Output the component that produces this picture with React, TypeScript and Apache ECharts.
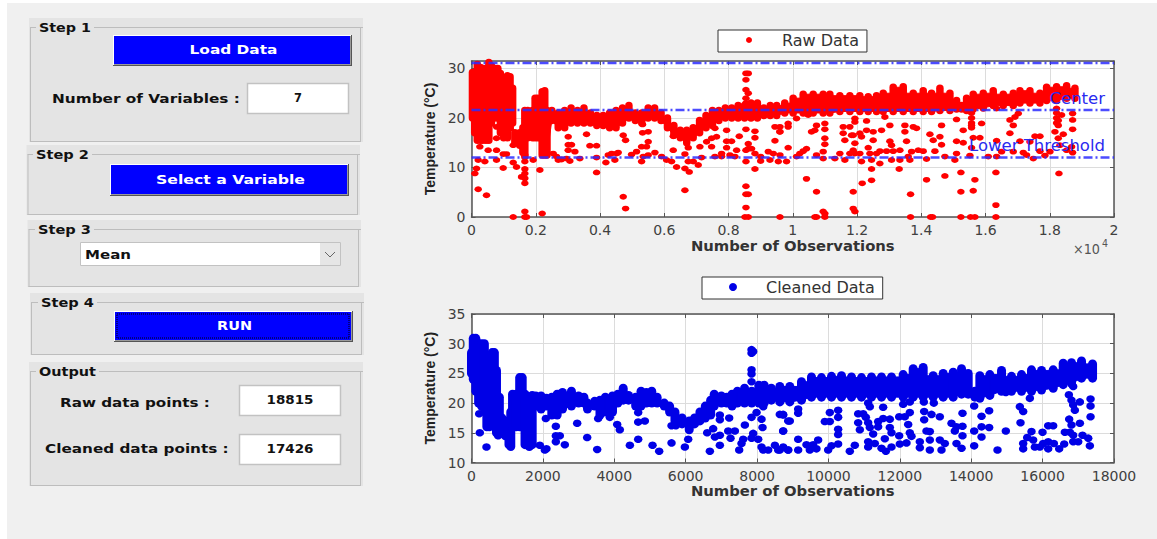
import React, { useEffect, useRef } from "react";
import * as echarts from "echarts";

// ---------- DATA ----------
const rawTitle = "Raw Data";
const cleanTitle = "Cleaned Data";
const xName = "Number of Observations";
const yName = "Temperature (°C)";
const thresholds = { upper: 31.1, center: 21.6, lower: 12 };

// [observation, low, high] of the densely filled part of each trace
const rawBand = [
  [30,20,29.2],[100,17,29],[180,15.5,30.8],[280,15.5,30.2],[350,15.5,30],[450,15.5,30],[540,15.5,31.2],[620,19,30.5],[720,20,30],[820,20,30],[900,17,29],[1000,16,27.5],[1120,16,28.5],[1200,18,28.3],[1280,19,26],[1350,15,17],[1500,14.5,17],[1600,13,18],[1660,12.2,21.5],[1750,16,21.5],[1900,16,21.5],[1980,16,24],[2060,16,24],[2130,16,21.5],[2200,12.5,25.3],[2280,12.5,25.5],[2350,12.5,21.5],
  [2500,19.5,21.5],[2700,18,21],[2900,18,21.5],[3100,19,22],[3300,19,21.5],[3500,19,22],[3700,19,21],[3900,18.5,20.5],[4100,18.5,20.5],[4300,18,21],[4500,18,21.5],[4700,19,22],[4900,20,22.5],[5100,19.5,21],[5300,19,21],[5500,20,22],[5700,20,22],[5900,19.5,21],[6100,18,20],[6300,16.5,18.5],[6500,16,17.5],[6700,15,17.5],[6900,16,18],[7100,17,19.5],[7300,18,20.5],[7500,18.5,21.5],[7700,19.5,21.5],[7900,20,22],[8100,20,22],[8300,20,22.5],[8500,20,22.5],[8700,20,23],[8900,20,23],[9100,20.5,22],[9300,20.5,22.5],[9500,20.5,22.5],[9750,21,23],
  [10013,21,24],[10325,21,24.8],[10636,21,24.8],[10947,21,24.8],[11155,21,24.8],[11466,21.3,24.5],[11778,21.3,24.5],[12089,21.3,24.5],[12349,21.3,24.3],[12608,21.3,24.5],[12816,21.3,25],[13127,21.3,26.2],[13439,21.3,26.3],[13750,21.3,25],[14061,21.3,25.5],[14321,21.3,25],[14581,21.5,26],[14892,21.5,25],[15099,21.8,23.5],[15255,21.8,22.5],[15411,21.5,24],[15618,21.8,24.8],[15930,22,25],[16241,22.5,25.5],[16553,22.5,24.8],[16864,22.5,25],[17072,23,25.5],[17383,23,25.5],[17695,23,25],[17902,23.5,26.2],[18213,23.5,26.3],[18525,24,26.5],[18784,24,26],
];

const rawPoints = [
  [104,8.8],[156,9.8],[208,5.6],[467,4.4],[260,14.2],[208,11.5],[415,11.2],[519,13.5],[779,13.5],[779,11.5],[779,15.9],[779,18.2],[986,12.7],[1090,12.7],[986,9.9],[1298,11],[1401,10.1],[1298,14.5],[1298,0],[1661,0],[1713,0],[1661,1.1],[1661,6.8],[1661,7.8],[1557,8.1],[1661,8.8],[1661,9.7],[1661,11.2],[1661,12.5],[1920,11.5],[2128,9.5],[2200,0.7],
  [2543,12.8],[2647,12.2],[2700,11.5],[2803,11.6],[2958,11.8],[3062,11.3],[3010,16.2],[3010,14.6],[3010,13.5],[3114,14.6],[3218,13.2],[3373,11.8],[3581,16.7],[3685,14.4],[3893,14.4],[3893,12],[3893,9],[4183,11],[4256,12.5],[4360,12.8],[4515,12.8],[4463,11.5],[4567,13],[4723,16.5],[4796,15.5],[4723,4.1],[4796,1.7],[4982,12.6],[5138,13.2],[5294,14.2],[5325,18.7],[5325,17],[5294,11.2],[5346,12.2],[5501,17.2],[5501,15.2],[5450,14.2],[5501,12.5],[5709,13],[5917,12.2],[6072,11.5],[6228,11.2],[6384,10.1],[6280,13.5],[6280,16.3],[6643,12.7],[6643,5.4],[6643,9.8],[6778,9.1],[6747,14],[6747,11.2],[6903,11.2],[7058,10.5],[7110,14.2],[7162,12],[7318,15.2],[7474,15.9],[7474,14.2],[7577,12.2],[7577,17.9],[7629,16.2],[7785,12.8],[7785,12.2],[7941,17.5],[7941,15.3],[8096,15.3],[7941,14],[8045,12.5],[8252,13.5],[8335,16.3],[8200,12.2],[8543,17.7],[8543,13.5],[8615,14.8],[8615,13.8],[8719,13.8],[8543,11.2],[8543,6.2],[8543,4.6],[8615,4.6],[8543,1.9],[8512,0],[8615,0],[8823,17.3],[8823,16],[8823,9.7],[8823,12.8],[9000,12.2],[9000,11.3],[9238,13.2],[9394,12.8],[9602,12.5],[9446,15.4],[9446,18.2],[9602,17.2],[9602,18.2],[9290,11.5],[9550,11.2],[9602,0],
  [8543,29],[8615,29],[8543,27.7],[8543,25.7],[8615,25],[8543,24],[8543,23],
  [9598,17.2],[9857,18.9],[9857,18.2],[10117,19.9],[10480,20.6],[10584,17.2],[10688,17.5],[10740,18.5],[10999,18.9],[10999,17.7],[10999,15.9],[10999,14.7],[11570,18.2],[11570,16.9],[11622,15.5],[11778,18.2],[11830,16.5],[11934,19.9],[11934,19.2],[11882,16.5],[12089,16.9],[12141,16.2],[11934,14.9],[12297,19.4],[12297,17.5],[12504,17.2],[12504,15.5],[12764,17.5],[13023,18.5],[13023,15.3],[13075,14.5],[12868,20.2],[13491,18.5],[13491,17.2],[13750,18.2],[13854,17.9],[13542,15.3],[14269,16.7],[14373,15.5],[14581,16.2],[14632,18.5],[14632,14.6],[15099,19.7],[15099,15.3],[15307,17.5],[15307,15],
  [15566,21],[15566,20],[15566,19],[15566,18.5],[15566,18],[15618,16],[15826,16],[15878,18.9],[16345,15.4],[16345,21.9],[16760,19.6],[16864,18.5],[16760,16.9],[17020,20.9],[16916,20.2],[17539,16.3],[17695,16.3],[17383,15.2],[18162,17.2],[18421,16.7],[18265,15.9],
  [18213,21.9],[18213,21],[18213,20],[18213,19],[18265,19.5],[18265,18.5],[18369,20.6],[18712,20.9],[18712,19.6],[18712,17.7],[18712,13],
  [9857,14],[10221,12.8],[10428,13.8],[10117,12.2],[9806,11.2],[10325,13.3],[10740,12.5],[10947,13.2],[10947,11.8],[11311,11.8],[11466,12.8],[11622,11.5],[11778,12.8],[11882,13.5],[11934,12.8],[12089,12.8],[12141,11.2],[12349,14],[12401,12.8],[12453,11.5],[12608,12.8],[12712,13.3],[12712,10.8],[12920,13.3],[13127,13.3],[13075,11.5],[13335,13.5],[13335,11.5],[13594,12.2],[13646,11.5],[13698,13.2],[13906,13.5],[14061,13.3],[14165,11.7],[14425,13.3],[14736,12.2],[15047,11.5],[15099,12.8],[15515,12.4],[15566,14],[16086,12.2],[16345,12.2],[16501,13.2],[16864,13.2],[17072,15.3],[17176,13],[17279,12.5],[17487,11.8],[17695,13.3],[17850,12.4],[18006,13.2],[18317,14.5],[18525,13.5],[18681,14.2],
  [10428,7.7],[10740,5.1],[10947,1.1],[10999,0.7],[10688,0],[10740,0],[10999,0],[11882,5.1],[11882,1.7],[11934,1.1],[12162,6.8],[12453,7.4],[12453,9.7],[13314,9.7],[13667,4.6],[13667,0],[14165,7.5],[14352,0],[14290,0],[14736,8.3],[15234,9],[15234,5.1],[15234,0],[15535,0],[15670,0],[15670,7.5],[15618,5.3],[16324,9],[16324,2.4],[16324,0],[18286,8.8],
];

const cleanBand = [
  [0,25,28.5],[50,24,30.9],[120,22,30.9],[200,20,30],[280,19.5,30],[360,19,30],[430,16,28],[500,16,27.5],[580,17.5,28.5],[640,17,28.5],[700,15,25.5],[780,15,21],[850,15,17.5],[950,14.5,17],[1050,13,17],[1100,12.7,18.5],[1150,16,21.5],[1250,16,21.5],[1350,16,24.3],[1420,16,24.3],[1500,13,21.5],[1620,12.7,17],[1700,13,21.3],
  [1800,19.5,21.2],[1950,19,21.2],[2100,19.5,20.8],[2250,18,21],[2400,18,21.5],[2550,19,21.8],[2800,19.5,22],[3000,20,21.2],[3150,20,21],[3250,19,20],[3450,19.5,20.3],[3600,18,20.5],[3750,18.5,21],[3950,18.5,21.2],[4100,20,21.5],[4250,20.5,22.5],[4400,20.5,21.3],[4600,19.5,21],[4750,19.5,22],[4900,20,21.8],[5050,20,22],[5200,20,21],[5400,19.5,20],[5550,18.5,19.5],[5700,17,18.5],[5900,16.5,17.5],[6100,15.5,17],[6250,16.5,17.5],[6400,17,18.5],[6550,17.5,19.5],[6700,18,20.5],[6800,19.5,21.5],[7000,20,21.2],[7150,20,21],[7300,19.5,21.5],[7450,20,22],[7650,20,22.5],[7850,20,22],[8050,20,23],[8200,20,23],[8400,20.5,22.5],[8638,20.2,22.8],
  [8918,20.2,22.8],[9245,20.5,23.6],[9525,21,24.4],[9805,21,24.3],[10086,21,24.5],[10366,21,24.6],[10646,21,24.4],[10926,21,24.3],[11206,21,24.4],[11487,21,24.4],[11767,21,24.4],[12094,21,24.8],[12374,21,25.8],[12654,21,26],[12934,21,24.6],[13215,21,25],[13495,21,25.2],[13729,21.5,25.8],[13915,21.5,25],[14102,21,22],[14242,20.8,24.6],[14522,21.3,24.8],[14849,22,25.5],[15129,22,24.5],[15410,22,24.8],[15689,22,25.6],[15970,22.2,25.5],[16297,22.5,25.6],[16577,23.1,26.7],[16810,23.3,26.8],[17090,24.2,27.1],[17399,24.2,26.6],
];

const cleanPoints = [
  [233,15],[215,18.2],[420,12.6],[747,14.5],[747,18.2],[1915,12.9],[2055,12.1],[2101,12.3],[2083,17.4],[2363,16.1],[2363,14.5],[2475,14.5],[2363,13.5],[2615,13],[2961,16.6],[3241,14.2],[3521,12.2],[3549,17.4],[3876,17.6],[4082,16.4],[4156,15.5],[4437,12.9],[4670,13.9],[4670,16.8],[4857,17],[4670,18.4],[5072,12.9],[5258,11.9],[5604,13.3],[5604,16.2],[5725,16.2],[5978,12.6],[6071,13.9],[6603,15],[6678,11.9],[6771,15.7],[6818,14.3],[6958,14.6],[6958,12.9],[6958,17.2],[6958,18],[7220,17.5],[7192,15.3],[7379,15.3],[7257,14.1],[7500,12.1],[7565,13.2],[7612,13.9],[7659,16.3],[7846,14.1],[7892,14.9],[8032,13.9],[7846,17.6],[7986,18.4],[8126,12.6],[8173,12.1],[8313,12.1],[8126,17.3],[8154,15.9],[8173,19.4],[8500,12.9],[8593,12.1],[8733,12.6],[8873,12.1],[8733,18],[8733,15.3],[8873,17],
  [7846,29],[7846,28.4],[7846,25.6],[7846,24.9],[7846,23.6],[7892,28.7],
  [8638,18.1],[8731,18.1],[8918,17],[9152,19],[9152,18.3],[8731,15.3],[9152,13.9],[9712,13.8],[9899,16.9],[10039,16.9],[10039,18.4],[10272,18.8],[10272,17.6],[10272,15.6],[10272,14.7],[9385,13],[9572,13],[9479,12.1],[9152,12.1],[8872,12.1],[8638,12.1],[9665,12.3],[9992,12.1],[10086,12.8],[10272,13.1],[10599,11.9],[10739,12.9],[10833,18.2],[10833,16.7],[10880,15.5],[10973,18.2],[11048,17.6],[11113,20],[11160,19.4],[11113,16.7],[11160,15.9],[11253,14.8],[11113,13.5],[11113,12.6],[11300,13.2],[11393,16],[11393,16.9],[11533,17.4],[11533,19.3],[11720,17.3],[11720,15.9],[11767,15],[11580,14],[11487,12.4],[11608,11.9],[11767,12.6],[11982,17.7],[11982,14.5],[12140,17.7],[12280,18.4],[12234,16.4],[12280,15],[12327,14.4],[12094,19.8],[12280,20.2],[12000,13.1],[12187,13.3],[12561,13.5],[12561,12.5],[12682,18.6],[12682,17.2],[12747,15.3],[12841,15.2],[12673,20.2],[12953,20],[12888,18.1],[13121,17.7],[12841,13.8],[12841,12.1],[13121,13.8],[13168,12.1],[13261,13.2],[13448,16.6],[13588,16],[13541,15.3],[13756,16.1],[13756,14.5],[13756,18.3],[13588,13.2],[13729,12.4],[14083,19.5],[14083,15.3],[14083,12.8],[14289,17.8],[14289,14.3],[14289,16],[14503,18.7],[14503,15.9],[14242,20.9],[14737,12.1],[14970,15.3],[14970,21.8],[15363,19.4],[15456,18.6],[15381,16.7],[15456,13.2],[15456,12.3],[15568,14.2],[15689,15.2],[15736,13.8],[15643,20.8],[15783,12.6],[15923,12.6],[15998,15.1],[16017,13.2],[16157,16.2],[16297,16.2],[16157,12.3],[16157,13.5],[16316,13.2],[16465,12.3],[16605,13.1],[16624,15.1],
  [16857,22.8],[16736,21.4],[16810,20.5],[16857,19.7],[16904,18.8],[16745,17.3],[16810,16.3],[17044,16.6],[16764,15.1],[16857,14.6],[16857,13.5],[16998,13.5],[17119,14.6],[17278,14.1],[17324,12.8],[17343,20.7],[17343,19.5],[17343,17.7],[17044,20.2],
];

// ---------- PANEL HELPERS ----------
const FONT = "DejaVu Sans";
const panelFont = `bold 13px "${FONT}"`;
const ink = "#111";

const measureCtx = document.createElement("canvas").getContext("2d")!;
// Scales a text horizontally so it spans the wanted width, as the stretched screenshot does.
const text = (t: string, x: number, y: number, w: number, align = "left", fill = ink, font = panelFont) => {
  measureCtx.font = font;
  const m = measureCtx.measureText(t).width || 1;
  return {
    type: "text", x, y, z: 10, scaleX: w / m,
    style: { text: t, fill, font, align, verticalAlign: "middle" },
  };
};
const hline = (x1: number, x2: number, y: number, stroke = "#bdbdbd") => ({
  type: "line", z: 5, shape: { x1, y1: y, x2, y2: y }, style: { stroke, lineWidth: 1 },
});
const vline = (x: number, y1: number, y2: number, stroke = "#bdbdbd") => ({
  type: "line", z: 5, shape: { x1: x, y1, x2: x, y2 }, style: { stroke, lineWidth: 1 },
});
const panel = (x: number, y: number, r: number, b: number, title: string, tx: number, tw: number) => [
  { type: "rect", z: 1, shape: { x, y, width: r - x, height: b - y }, style: { fill: "#e4e4e4" } },
  hline(x + 1, tx - 3, y + 9.5), hline(tx + tw + 3, r, y + 9.5),
  vline(x + 1.5, y + 9.5, b), vline(r - 2.5, y + 9.5, b), hline(x + 1, r - 2, b - 0.5),
  text(title, tx, y + 9, tw),
];
const button = (x: number, y: number, r: number, b: number, label: string, w: number, dotted = false) => {
  const out: any[] = [
    { type: "rect", z: 6, shape: { x, y, width: r - x, height: b - y }, style: { fill: "#0000ff" } },
    hline(x, r, y + 0.5, "#ffffff"), vline(x + 0.5, y, b, "#ffffff"),
    hline(x, r, b - 0.5, "#555555"), vline(r - 0.5, y, b, "#555555"),
    hline(x + 1, r - 1, b - 1.5, "#9a9a9a"), vline(r - 1.5, y + 1, b - 1, "#9a9a9a"),
  ];
  out.forEach((e) => { e.z = e.type === "rect" ? 6 : 7; });
  if (dotted) {
    out.push({
      type: "rect", z: 8, shape: { x: x + 3, y: y + 3, width: r - x - 7, height: b - y - 7 },
      style: { fill: "none", stroke: "#000", lineWidth: 1, lineDash: [1, 1] },
    });
  }
  out.push(text(label, (x + r) / 2 + 1, (y + b) / 2 - 1, w, "center", "#ffffff"));
  return out;
};
const box = (x: number, y: number, r: number, b: number, value: string, vy: number, w: number) => [
  { type: "rect", z: 6, shape: { x: x + 0.5, y: y + 0.5, width: r - x - 1, height: b - y - 1 }, style: { fill: "#fff", stroke: "#c2c2c2", lineWidth: 1.5 } },
  text(value, (x + r) / 2, vy, w, "center"),
];

const graphics: any[] = [
  ...panel(29, 18, 363, 142, "Step 1", 39, 52),
  ...button(113, 35, 352, 66, "Load Data", 88),
  text("Number of Variables :", 52, 98, 188),
  ...box(247, 83, 349, 114, "7", 98, 8),
  ...panel(26.5, 145, 360, 215, "Step 2", 36, 53),
  ...button(110, 164, 349, 196, "Select a Variable", 149),
  ...panel(27.5, 220, 361, 287, "Step 3", 38, 53),
  { type: "rect", z: 6, shape: { x: 80.5, y: 242.5, width: 260, height: 23 }, style: { fill: "#fff", stroke: "#c2c2c2", lineWidth: 1 } },
  { type: "rect", z: 6, shape: { x: 320, y: 243, width: 20, height: 22 }, style: { fill: "#e6e6e6" } },
  { type: "polyline", z: 7, shape: { points: [[325, 252], [330, 257], [335, 252]] }, style: { stroke: "#666", lineWidth: 1, fill: "none" } },
  text("Mean", 85, 254, 46),
  ...panel(30, 293, 364, 355, "Step 4", 41, 53),
  ...button(114, 311, 353, 342, "RUN", 35, true),
  ...panel(29, 362, 363, 486, "Output", 39, 57),
  text("Raw data points :", 60, 402, 150),
  ...box(239, 385, 341, 416, "18815", 400, 47),
  text("Cleaned data points :", 45, 448, 184),
  ...box(239, 434, 341, 465, "17426", 449, 47),
  text("×10", 1073, 249, 27, "left", "#555", `14px "${FONT}"`),
  text("4", 1102, 243, 6, "left", "#555", `10px "${FONT}"`),
];

// ---------- AXIS HELPERS ----------
const tickLabel = { color: "#404040", fontFamily: FONT, fontSize: 14, margin: 6 };
const frame = { show: true, lineStyle: { color: "#555", width: 1.5 } };
const ticks = { show: true, inside: true, length: 4, lineStyle: { color: "#555", width: 1 } };
const gridLine = { show: true, lineStyle: { color: "#dcdcdc", width: 1 } };

const xAxis = (gridIndex: number, max: number, formatter: (v: number) => string) => ({
  type: "value", gridIndex, min: 0, max, interval: 2000, position: "bottom",
  name: xName, nameLocation: "middle", nameGap: 20,
  nameTextStyle: { color: "#333", fontFamily: FONT, fontWeight: "bold", fontSize: 14.8 },
  axisLine: { ...frame, onZero: false }, axisTick: ticks, splitLine: gridLine,
  axisLabel: { ...tickLabel, formatter, hideOverlap: false },
});
const yAxis = (gridIndex: number, min: number, max: number, interval: number) => ({
  type: "value", gridIndex, min, max, interval, position: "left",
  name: yName, nameLocation: "middle", nameRotate: 90, nameGap: 21,
  nameTextStyle: { color: "#222", fontFamily: "Liberation Sans", fontWeight: "bold", fontSize: 14 },
  axisLine: { ...frame, onZero: false }, axisTick: ticks, splitLine: gridLine,
  axisLabel: { ...tickLabel, showMaxLabel: max % interval === 0 },
});
const xTop = (gridIndex: number, max: number) => ({
  type: "value", gridIndex, min: 0, max, interval: 2000, position: "top",
  axisLine: { ...frame, onZero: false }, axisTick: ticks, axisLabel: { show: false }, splitLine: { show: false },
});
const yRight = (gridIndex: number, min: number, max: number, interval: number) => ({
  type: "value", gridIndex, min, max, interval, position: "right",
  axisLine: { ...frame, onZero: false }, axisTick: ticks, axisLabel: { show: false }, splitLine: { show: false },
});

// One rounded stroke per row, with the space between neighbouring rows filled in.
const bandSeries = (name: string, data: number[][], idx: number, color: string, lineWidth: number) => ({
  type: "custom", name, xAxisIndex: idx, yAxisIndex: idx, data, clip: false, z: 2, silent: true,
  encode: { x: 0, y: [1, 2] },
  renderItem: (params: any, api: any) => {
    const row = data[params.dataIndex];
    const next = data[params.dataIndex + 1];
    const a = api.coord([row[0], row[1]]);
    const b = api.coord([row[0], row[2]]);
    const children: any[] = [{
      type: "line",
      shape: { x1: a[0], y1: a[1], x2: b[0], y2: b[1] },
      style: { stroke: color, lineWidth, lineCap: "round", fill: "none" },
    }];
    if (next) {
      const top = Math.min(row[2], next[2]);
      children.push({
        type: "polygon",
        shape: { points: [
          api.coord([row[0], row[1]]),
          api.coord([row[0], top]),
          api.coord([next[0], top]),
          api.coord([next[0], next[1]]),
        ] },
        style: { fill: color, stroke: color, lineWidth: 1 },
      });
    }
    return { type: "group", children };
  },
});
const thresholdLine = (name: string, y: number, label?: string, dy = -11) => ({
  type: "line", name, xAxisIndex: 0, yAxisIndex: 0, z: 5, symbol: "none", silent: true,
  data: [[0, y], [20000, y]],
  lineStyle: { color: "rgba(45,45,255,0.85)", width: 2.5, type: [9, 3, 2, 3] },
  markPoint: label
    ? {
        symbol: "circle", symbolSize: 0, silent: true,
        data: [{
          coord: [20000, y],
          label: {
            show: true, formatter: label, position: "left", offset: [-4, dy],
            color: "#2a2af0", fontFamily: FONT, fontSize: 16.5,
          },
        }],
      }
    : undefined,
});

export default function App() {
  const ref = useRef<HTMLDivElement>(null);
  useEffect(() => {
    document.body.style.margin = "0";
    const chart = echarts.init(ref.current!, undefined, { renderer: "svg" });
    chart.setOption({
      animation: false,
      graphic: { elements: graphics },
      legend: [
        {
          data: [{ name: rawTitle, icon: "circle" }], left: 718, top: 30, orient: "horizontal",
          padding: [2, 8, 4, 28], itemWidth: 56, itemHeight: 6,
          backgroundColor: "#fff", borderColor: "#333", borderWidth: 1, selectedMode: false,
          textStyle: { color: "#333", fontFamily: FONT, fontSize: 16 },
        },
        {
          data: [{ name: cleanTitle, icon: "circle" }], left: 702, top: 277, orient: "horizontal",
          padding: [2, 8, 4, 27], itemWidth: 56, itemHeight: 8,
          backgroundColor: "#fff", borderColor: "#333", borderWidth: 1, selectedMode: false,
          textStyle: { color: "#333", fontFamily: FONT, fontSize: 16 },
        },
      ],
      grid: [
        { left: 471.5, top: 61, width: 642.5, height: 156, show: true, backgroundColor: "#fff", borderWidth: 0 },
        { left: 471.5, top: 314, width: 642.5, height: 148.5, show: true, backgroundColor: "#fff", borderWidth: 0 },
      ],
      xAxis: [
        xAxis(0, 20000, (v: number) => String(v / 10000)),
        xAxis(1, 18000, (v: number) => String(v)),
        xTop(0, 20000),
        xTop(1, 18000),
      ],
      yAxis: [
        yAxis(0, 0, 31.5, 10),
        yAxis(1, 10, 35, 5),
        yRight(0, 0, 31.5, 10),
        yRight(1, 10, 35, 5),
      ],
      series: [
        bandSeries("Raw band", rawBand, 0, "#ff0000", 7.5),
        {
          type: "scatter", name: rawTitle, xAxisIndex: 0, yAxisIndex: 0, data: rawPoints, clip: false, z: 3,
          symbol: "circle", symbolSize: [7.5, 5.8], itemStyle: { color: "#ff0000", opacity: 1 }, silent: true,
        },
        thresholdLine("Upper", thresholds.upper),
        thresholdLine("Center", thresholds.center, "Center", -12),
        thresholdLine("Lower Threshold", thresholds.lower, "Lower Threshold", -12),
        bandSeries("Cleaned band", cleanBand, 1, "#0000e6", 9),
        {
          type: "scatter", name: cleanTitle, xAxisIndex: 1, yAxisIndex: 1, data: cleanPoints, clip: false, z: 3,
          symbol: "circle", symbolSize: [8.5, 7.5], itemStyle: { color: "#0000e6", opacity: 1 }, silent: true,
        },
      ],
    });
    return () => chart.dispose();
  }, []);
  return (
    <div style={{ position: "relative", width: 1157, height: 539, background: "#fff", overflow: "hidden" }}>
      <div style={{ position: "absolute", left: 7, top: 3, right: 0, bottom: 0, background: "#f0f0f0" }} />
      <div ref={ref} style={{ position: "absolute", left: 0, top: 0, width: 1157, height: 539 }} />
    </div>
  );
}
